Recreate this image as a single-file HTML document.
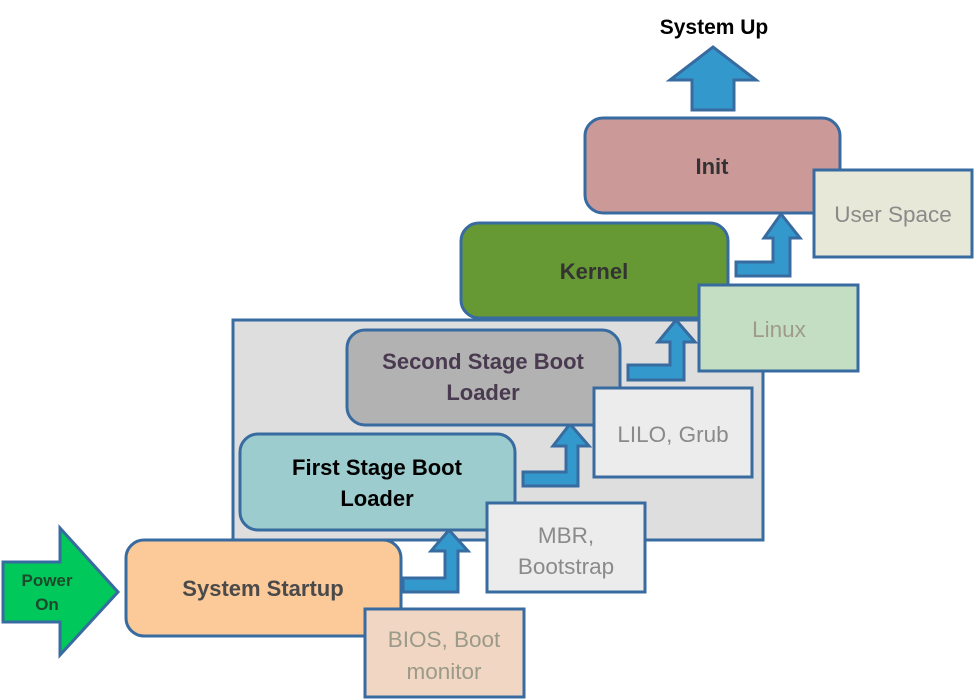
<!DOCTYPE html>
<html><head><meta charset="utf-8"><style>
html,body{margin:0;padding:0;background:#fff;}
svg{display:block;}
text{font-family:"Liberation Sans",sans-serif;}
</style></head><body>
<svg width="976" height="700" viewBox="0 0 976 700" xmlns="http://www.w3.org/2000/svg">
<g stroke="#386ba0" stroke-width="3">
<rect x="233" y="320" width="530" height="220" fill="#dedede"/>
<polygon points="3,562 60,562 60,528 118,592 60,655 60,622 3,622" fill="#00c85a"/>
<rect x="126" y="540" width="275" height="96" rx="18" fill="#fcc998"/>
<rect x="365" y="609" width="159" height="88" fill="#f2d6c4"/>
<polygon points="403,592 458,592 458,551 468,551 449,530 431,551 445,551 445,578 403,578" fill="#3399cc"/>
<rect x="240" y="434" width="275" height="96" rx="18" fill="#9ccccd"/>
<rect x="487" y="503" width="158" height="89" fill="#ececec"/>
<polygon points="523,486 578,486 578,446 589,446 570,424 553,446 566,446 566,472 523,472" fill="#3399cc"/>
<rect x="347" y="330" width="273" height="95" rx="18" fill="#b2b2b2"/>
<rect x="594" y="388" width="158" height="89" fill="#ececec"/>
<polygon points="628,380 684,380 684,342 695,342 676,320 658,342 670,342 670,365 628,365" fill="#3399cc"/>
<rect x="461" y="223" width="267" height="95" rx="18" fill="#669933"/>
<rect x="699" y="285" width="159" height="86" fill="#c4dec4"/>
<polygon points="736,276 790,276 790,238 800,238 781,214 764,238 773,238 773,262 736,262" fill="#3399cc"/>
<rect x="585" y="118" width="255" height="95" rx="18" fill="#cc9999"/>
<rect x="814" y="170" width="158" height="87" fill="#e8e8d8"/>
<polygon points="692,110 734,110 734,80 756,80 713,47 670,80 692,80" fill="#3399cc"/>
</g>
<g font-weight="bold" font-size="22" text-anchor="middle">
<text x="714" y="34" font-size="21" fill="#000">System Up</text>
<text x="47" y="586" font-size="17" fill="#1c4a2a">Power</text>
<text x="47" y="610" font-size="17" fill="#1c4a2a">On</text>
<text x="263" y="596" fill="#4a4a4a">System Startup</text>
<text x="377" y="475" fill="#000">First Stage Boot</text>
<text x="377" y="506" fill="#000">Loader</text>
<text x="483" y="369" fill="#4a3a50">Second Stage Boot</text>
<text x="483" y="400" fill="#4a3a50">Loader</text>
<text x="594" y="279" fill="#333">Kernel</text>
<text x="712" y="174" fill="#333">Init</text>
</g>
<g font-size="22.5" text-anchor="middle" fill="#8a8a8a">
<text x="444" y="647" fill="#9a9a88">BIOS, Boot</text>
<text x="444" y="679" fill="#9a9a88">monitor</text>
<text x="566" y="543">MBR,</text>
<text x="566" y="574">Bootstrap</text>
<text x="673" y="442">LILO, Grub</text>
<text x="779" y="337" fill="#a09a8a">Linux</text>
<text x="893" y="222">User Space</text>
</g>
</svg>
</body></html>
